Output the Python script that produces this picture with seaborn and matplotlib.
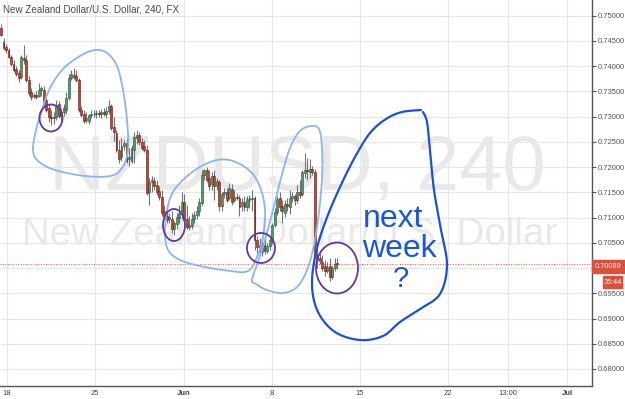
import numpy as np
import matplotlib
matplotlib.use("Agg")
import matplotlib.pyplot as plt
from matplotlib.patches import Ellipse, Rectangle
import seaborn as sns

# ---------------- data (NZDUSD 4h candles) ----------------
opens = [0.7476,0.7448,0.7438,0.7432,0.7418,0.7404,0.7394,0.7386,0.7378,0.7416,
         0.7412,0.7372,0.7349,0.7341,0.7343,0.7341,0.7353,0.7353,0.7333,0.7317,
         0.7299,0.7297,0.7299,0.7325,0.7301,0.7309,0.7313,0.7337,0.7376,0.7382,
         0.7380,0.7372,0.7313,0.7305,0.7293,0.7291,0.7303,0.7305,0.7305,0.7307,
         0.7305,0.7309,0.7305,0.7311,0.7321,0.7279,0.7267,0.7233,0.7221,0.7241,
         0.7247,0.7217,0.7213,0.7233,0.7257,0.7263,0.7249,0.7241,0.7233,0.7150,
         0.7170,0.7172,0.7164,0.7152,0.7140,0.7114,0.7104,0.7098,0.7098,0.7078,
         0.7088,0.7100,0.7114,0.7130,0.7098,0.7082,0.7084,0.7098,0.7106,0.7114,
         0.7128,0.7184,0.7194,0.7178,0.7166,0.7182,0.7162,0.7170,0.7122,0.7146,
         0.7150,0.7138,0.7156,0.7134,0.7140,0.7138,0.7122,0.7130,0.7120,0.7134,
         0.7137,0.7138,0.7055,0.7045,0.7031,0.7045,0.7033,0.7043,0.7055,0.7086,
         0.7112,0.7138,0.7122,0.7110,0.7126,0.7120,0.7138,0.7142,0.7134,0.7150,
         0.7146,0.7188,0.7194,0.7190,0.7197,0.7190,0.7025,0.7019,0.7011,0.7005,
         0.6995,0.7005,0.6983,0.7001,0.7010]
highs = [0.7484,0.7456,0.7444,0.7436,0.7422,0.7412,0.7400,0.7392,0.7422,0.7442,
         0.7422,0.7380,0.7356,0.7347,0.7351,0.7366,0.7360,0.7360,0.7339,0.7325,
         0.7313,0.7309,0.7333,0.7331,0.7317,0.7325,0.7349,0.7384,0.7392,0.7396,
         0.7392,0.7376,0.7321,0.7313,0.7309,0.7305,0.7313,0.7313,0.7313,0.7313,
         0.7315,0.7317,0.7319,0.7333,0.7325,0.7299,0.7273,0.7253,0.7257,0.7253,
         0.7257,0.7237,0.7243,0.7269,0.7273,0.7269,0.7257,0.7253,0.7243,0.7178,
         0.7182,0.7180,0.7174,0.7162,0.7154,0.7124,0.7118,0.7110,0.7114,0.7094,
         0.7110,0.7124,0.7150,0.7146,0.7124,0.7104,0.7110,0.7114,0.7122,0.7138,
         0.7194,0.7197,0.7201,0.7194,0.7190,0.7194,0.7178,0.7174,0.7150,0.7158,
         0.7158,0.7168,0.7166,0.7154,0.7148,0.7144,0.7138,0.7142,0.7142,0.7144,
         0.7154,0.7142,0.7063,0.7059,0.7055,0.7055,0.7049,0.7063,0.7090,0.7118,
         0.7142,0.7150,0.7134,0.7134,0.7138,0.7154,0.7150,0.7146,0.7164,0.7174,
         0.7194,0.7227,0.7219,0.7217,0.7203,0.7197,0.7045,0.7031,0.7025,0.7015,
         0.7011,0.7019,0.7005,0.7019,0.7019]
lows = [0.7460,0.7432,0.7426,0.7416,0.7400,0.7388,0.7380,0.7368,0.7374,0.7404,
        0.7368,0.7341,0.7333,0.7337,0.7335,0.7339,0.7341,0.7323,0.7309,0.7289,
        0.7283,0.7285,0.7293,0.7297,0.7291,0.7301,0.7305,0.7333,0.7372,0.7374,
        0.7368,0.7309,0.7299,0.7287,0.7287,0.7285,0.7297,0.7299,0.7297,0.7299,
        0.7297,0.7301,0.7297,0.7305,0.7273,0.7251,0.7229,0.7209,0.7213,0.7233,
        0.7209,0.7203,0.7209,0.7209,0.7245,0.7243,0.7233,0.7229,0.7144,0.7124,
        0.7150,0.7154,0.7144,0.7134,0.7104,0.7098,0.7090,0.7090,0.7069,0.7065,
        0.7078,0.7090,0.7098,0.7090,0.7078,0.7075,0.7078,0.7090,0.7098,0.7104,
        0.7122,0.7174,0.7170,0.7154,0.7154,0.7134,0.7154,0.7114,0.7114,0.7138,
        0.7130,0.7134,0.7124,0.7130,0.7134,0.7104,0.7114,0.7114,0.7114,0.7118,
        0.7114,0.7035,0.7021,0.7025,0.7023,0.7027,0.7029,0.7035,0.7047,0.7082,
        0.7106,0.7114,0.7090,0.7102,0.7114,0.7108,0.7130,0.7124,0.7128,0.7138,
        0.7142,0.7178,0.7174,0.7178,0.7184,0.7019,0.7001,0.7009,0.6995,0.6985,
        0.6991,0.6975,0.6979,0.6995,0.6999]
closes = [0.7462,0.7436,0.7432,0.7418,0.7404,0.7392,0.7384,0.7376,0.7418,0.7412,
          0.7372,0.7347,0.7339,0.7343,0.7339,0.7353,0.7356,0.7329,0.7313,0.7299,
          0.7297,0.7299,0.7323,0.7301,0.7309,0.7317,0.7337,0.7376,0.7384,0.7378,
          0.7372,0.7313,0.7303,0.7291,0.7297,0.7303,0.7305,0.7306,0.7307,0.7305,
          0.7309,0.7305,0.7311,0.7321,0.7277,0.7269,0.7233,0.7217,0.7241,0.7247,
          0.7213,0.7221,0.7237,0.7259,0.7263,0.7249,0.7237,0.7233,0.7148,0.7170,
          0.7174,0.7162,0.7150,0.7140,0.7110,0.7104,0.7096,0.7102,0.7078,0.7090,
          0.7102,0.7110,0.7130,0.7096,0.7082,0.7086,0.7098,0.7106,0.7114,0.7130,
          0.7184,0.7194,0.7174,0.7162,0.7182,0.7162,0.7172,0.7122,0.7146,0.7150,
          0.7134,0.7158,0.7130,0.7140,0.7138,0.7120,0.7130,0.7120,0.7136,0.7138,
          0.7138,0.7055,0.7041,0.7031,0.7047,0.7033,0.7043,0.7055,0.7086,0.7112,
          0.7136,0.7120,0.7114,0.7126,0.7122,0.7138,0.7142,0.7134,0.7150,0.7144,
          0.7190,0.7194,0.7192,0.7197,0.7190,0.7025,0.7015,0.7013,0.7001,0.6995,
          0.7003,0.6983,0.7001,0.7009,0.70089]

x_tick_labels = ["18", "25", "Jun", "8", "15", "22", "13:00", "Jul"]
x_tick_bars = [2.4, 37.5, 72.9, 108.0, 143.0, 178.1, 202.0, 225.5]
y_ticks = [0.680, 0.685, 0.690, 0.695, 0.700, 0.705, 0.710, 0.715,
           0.720, 0.725, 0.730, 0.735, 0.740, 0.745, 0.750]
last_price = 0.70089
countdown = "35:44"
title = "New Zealand Dollar/U.S. Dollar, 240, FX"
symbol_wm = "NZDUSD, 240"
name_wm = "New Zealand Dollar/U.S. Dollar"

# ---------------- style ----------------
sns.set_theme(style="white")
plt.rcParams["font.family"] = ["Liberation Sans", "DejaVu Sans"]

W, H = 625, 399
AX_W, AX_H = 592, 386
fig = plt.figure(figsize=(W / 100, H / 100), dpi=100)
ax = fig.add_axes([0, (H - AX_H) / H, AX_W / W, AX_H / H])

n = len(closes)
idx = np.arange(n)
o = np.array(opens); h = np.array(highs); l = np.array(lows); c = np.array(closes)
up = c >= o

UP_C, UP_E = "#4f9a6a", "#225437"
DN_C, DN_E = "#c4452f", "#5b1a13"

def axfrac(px, py):
    return px / AX_W, 1 - py / AX_H

# watermark
ax.text(*axfrac(297, 190), symbol_wm, transform=ax.transAxes, ha="center",
        va="baseline", fontsize=56, color="#e9e9e9", zorder=0.6)
ax.text(*axfrac(290, 245), name_wm, transform=ax.transAxes, ha="center",
        va="baseline", fontsize=27.7, color="#e9e9e9", zorder=0.6)

# candles
ax.vlines(idx, l, h, color="#737375", lw=0.8, zorder=2)
body_lo = np.minimum(o, c)
body_h = np.maximum(np.abs(c - o), 0.00008)
ax.bar(idx[up], body_h[up], bottom=body_lo[up], width=0.75, color=UP_C,
       edgecolor=UP_E, linewidth=0.4, zorder=3)
ax.bar(idx[~up], body_h[~up], bottom=body_lo[~up], width=0.75, color=DN_C,
       edgecolor=DN_E, linewidth=0.4, zorder=3)

# current price line
ax.axhline(last_price, color="#e05a4a", lw=0.7, ls=(0, (1, 1.6)), zorder=1.5)

s = 2.51
ax.set_xlim(-1 / s, (AX_W - 1) / s)
ax.set_ylim(0.75311 - AX_H / 5047, 0.75311)

ax.set_xticks(x_tick_bars)
ax.set_xticklabels(x_tick_labels)
for t in ax.get_xticklabels():
    if t.get_text() in ("Jun", "Jul"):
        t.set_fontweight("bold")
ax.set_yticks(y_ticks)
# the 0.70000 label sits under the price tag in the reference
ax.set_yticklabels(["" if abs(v - 0.700) < 1e-9 else f"{v:.5f}" for v in y_ticks])
ax.yaxis.tick_right()
ax.tick_params(axis="y", which="both", right=True, length=3, width=0.8,
               color="#555555", labelsize=5.5, labelcolor="#555555", pad=1)
ax.tick_params(axis="x", bottom=False, length=0, labelsize=5.5,
               labelcolor="#444444", pad=3)
ax.grid(True, color="#e6e6e6", lw=0.8)
ax.set_axisbelow(True)
for side in ("top", "left"):
    ax.spines[side].set_visible(False)
for side in ("right", "bottom"):
    ax.spines[side].set_visible(True)
    ax.spines[side].set_color("#555555")
    ax.spines[side].set_linewidth(1.0)

# title
fig.text(3 / W, 1 - 12 / H, title, fontsize=7.1, color="#4a4a4a", ha="left",
         va="baseline")

# price tag
fig.add_artist(Rectangle((592 / W, 1 - 273 / H), 33 / W, 13 / H,
                         transform=fig.transFigure, color="#d9503f", zorder=5))
fig.text(608.5 / W, 1 - 266.5 / H, f"{last_price:.5f}", color="white",
         fontsize=5.3, ha="center", va="center", zorder=6)
fig.add_artist(Rectangle((603 / W, 1 - 288 / H), 19 / W, 12 / H,
                         transform=fig.transFigure, color="#d9503f", zorder=5))
fig.text(612.5 / W, 1 - 282 / H, countdown, color="white",
         fontsize=5.3, ha="center", va="center", zorder=6)

# ---------------- hand-drawn annotations (pixel positions of the drawing) ----------------
def smooth(pts, closed=False, k=14):
    P = np.array(pts, float)
    if closed:
        P = np.vstack([P[-1], P, P[0], P[1]])
    else:
        P = np.vstack([P[0], P, P[-1]])
    out = []
    for i in range(1, len(P) - 2):
        p0, p1, p2, p3 = P[i - 1], P[i], P[i + 1], P[i + 2]
        for t in np.linspace(0, 1, k, endpoint=False):
            t2, t3 = t * t, t * t * t
            out.append(0.5 * (2 * p1 + (-p0 + p2) * t
                              + (2 * p0 - 5 * p1 + 4 * p2 - p3) * t2
                              + (-p0 + 3 * p1 - 3 * p2 + p3) * t3))
    out.append(P[-2])
    out = np.array(out)
    return out[:, 0] / AX_W, 1 - out[:, 1] / AX_H

light = "#8cb4f2"
loop1 = [(33, 150), (38, 161), (55, 170), (85, 176), (110, 176), (122, 168),
         (128, 150), (127, 120), (123, 90), (117, 66), (107, 53), (95, 50),
         (80, 56), (63, 69), (50, 88), (42, 110), (36, 130)]
loop2 = [(173, 192), (185, 178), (200, 167), (217, 160), (233, 161), (250, 171),
         (260, 187), (265, 210), (263, 237), (257, 257), (248, 271), (230, 271),
         (200, 266), (180, 260), (168, 250), (165, 233), (167, 210)]
loop3 = [(252, 280), (258, 262), (265, 240), (273, 210), (281, 178), (290, 148),
         (300, 131), (311, 126), (319, 129), (322, 148), (322, 178), (319, 212),
         (314, 245), (307, 270), (297, 287), (283, 293), (267, 290), (256, 284)]
big = [(421, 110), (402, 112), (386, 119), (370, 133), (355, 157), (340, 187),
       (326, 220), (316, 252), (312, 285), (318, 312), (335, 332), (360, 340),
       (383, 336), (400, 322), (420, 309), (440, 294), (447, 265), (441, 230),
       (434, 190), (430, 150), (427, 122), (423, 112)]

for pts, closed in ((loop1, True), (loop2, True), (loop3, True)):
    xs, ys = smooth(pts, closed)
    ax.plot(xs, ys, color=light, lw=1.3, transform=ax.transAxes, zorder=4,
            solid_capstyle="round")
xs, ys = smooth(big, False)
ax.plot(xs, ys, color="#1f50d0", lw=1.6, transform=ax.transAxes, zorder=4,
        solid_capstyle="round")

purple = "#5c3aa6"
for (cx, cy, w, hh) in ((51, 118, 23, 27), (174, 225, 22, 32),
                        (261, 248, 28, 30), (337, 268, 42, 51)):
    ax.add_patch(Ellipse(axfrac(cx, cy), w / AX_W, hh / AX_H,
                         transform=ax.transAxes, fill=False, ec=purple,
                         lw=1.3, zorder=4))

blue_txt = "#1c58cc"
ax.text(*axfrac(393, 227), "next", transform=ax.transAxes, ha="center",
        va="baseline", fontsize=23, color=blue_txt, zorder=5)
ax.text(*axfrac(399, 257), "week", transform=ax.transAxes, ha="center",
        va="baseline", fontsize=23, color=blue_txt, zorder=5)
ax.text(*axfrac(401, 287), "?", transform=ax.transAxes, ha="center",
        va="baseline", fontsize=21, color=blue_txt, zorder=5)

fig.savefig("out.png", dpi=100)
